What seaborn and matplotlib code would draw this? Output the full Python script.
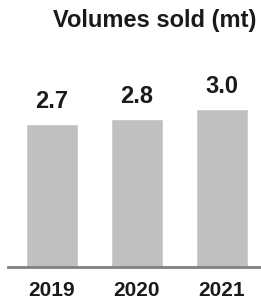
import matplotlib
matplotlib.use('Agg')
import matplotlib.pyplot as plt
import seaborn as sns
import pandas as pd

# Data
years = ["2019", "2020", "2021"]
volumes = [2.7, 2.8, 3.0]
title = "Volumes sold (mt)"

sns.set_style("white")
plt.rcParams['font.family'] = ['Liberation Sans', 'DejaVu Sans']

df = pd.DataFrame({"year": years, "volume": volumes})

W, H = 261, 304
fig = plt.figure(figsize=(W / 100, H / 100), dpi=100)
# axes placed in pixel coords: left 8, right 261, bottom line at y=267, top at y=30
ax = fig.add_axes([8 / W, (H - 267) / H, (261 - 8) / W, (267 - 30) / H])

sns.barplot(data=df, x="year", y="volume", color="#c0c0c0", width=0.62,
            saturation=1, ax=ax)

ax.set_xlim(-0.518, 2.46)
ax.set_ylim(0, 4.49)

for i, v in enumerate(volumes):
    ax.annotate(f"{v:.1f}", (i, v), xytext=(0, 8), textcoords="offset points",
                ha="center", va="bottom", fontsize=17, fontweight="bold",
                color="#1a1a1a")

for s in ["top", "right", "left"]:
    ax.spines[s].set_visible(False)
ax.spines["bottom"].set_color("#808080")
ax.spines["bottom"].set_linewidth(2)
ax.set_yticks([])
ax.set_xlabel("")
ax.set_ylabel("")
ax.tick_params(axis="x", length=0, pad=10)
for lbl in ax.get_xticklabels():
    lbl.set_fontsize(15)
    lbl.set_fontweight("bold")
    lbl.set_color("#1a1a1a")

fig.text(154.5 / W, 1 - 27 / H, title, ha="center", va="baseline",
         fontsize=17, fontweight="bold", color="#1a1a1a")

fig.savefig("out.png", dpi=100)
